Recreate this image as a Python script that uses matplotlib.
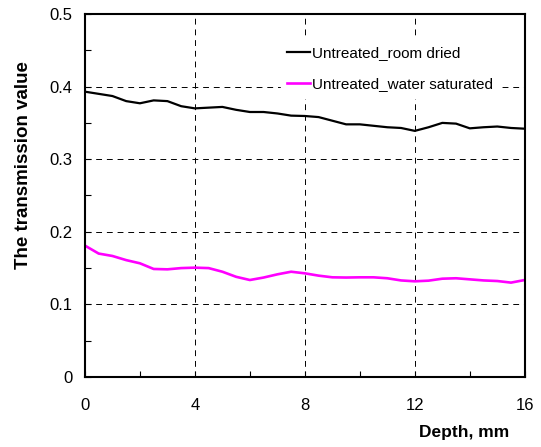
import numpy as np
import matplotlib
matplotlib.use("Agg")
import matplotlib.pyplot as plt
from matplotlib.ticker import MultipleLocator

# 深度 (mm)
depth = [0, 0.5, 1, 1.5, 2, 2.5, 3, 3.5, 4, 4.5, 5, 5.5, 6, 6.5, 7, 7.5, 8,
         8.5, 9, 9.5, 10, 10.5, 11, 11.5, 12, 12.5, 13, 13.5, 14, 14.5, 15, 15.5, 16]

# 室内干燥
room_dried = [0.393, 0.390, 0.387, 0.380, 0.377, 0.381, 0.380, 0.373, 0.370, 0.371,
              0.372, 0.368, 0.365, 0.365, 0.363, 0.360, 0.3595, 0.358, 0.353, 0.348,
              0.348, 0.346, 0.344, 0.343, 0.339, 0.344, 0.350, 0.349, 0.3425, 0.344,
              0.345, 0.343, 0.342]

# 饱水
water_saturated = [0.181, 0.170, 0.1667, 0.161, 0.1566, 0.1488, 0.1483, 0.150, 0.1506,
                   0.150, 0.145, 0.138, 0.1336, 0.137, 0.1414, 0.145, 0.1428, 0.1396,
                   0.1373, 0.137, 0.1373, 0.1373, 0.136, 0.133, 0.1318, 0.1327, 0.1354,
                   0.136, 0.1345, 0.133, 0.1322, 0.130, 0.1336]

labels = ["Untreated_room dried", "Untreated_water saturated"]

plt.rcParams["font.family"] = ["Liberation Sans", "DejaVu Sans"]

fig = plt.figure(figsize=(5.41, 4.47), dpi=100)
ax = fig.add_axes([0.157, 0.1566, 0.813, 0.8121])

ax.plot(depth, room_dried, color="black", lw=1.6, label=labels[0])
ax.plot(depth, water_saturated, color="#FF00FF", lw=1.9, label=labels[1])

ax.set_xlim(0, 16)
ax.set_ylim(0, 0.5)
ax.xaxis.set_major_locator(MultipleLocator(4))
ax.xaxis.set_minor_locator(MultipleLocator(2))
ax.yaxis.set_minor_locator(MultipleLocator(0.05))
ax.set_yticks([0, 0.1, 0.2, 0.3, 0.4, 0.5])
ax.set_yticklabels(["0", "0.1", "0.2", "0.3", "0.4", "0.5"])
ax.tick_params(which="both", direction="in", length=4, width=0.8, labelsize=12)
ax.tick_params(axis="x", pad=15)
ax.tick_params(axis="y", pad=9)

ax.grid(True, which="major", color="black", ls=(0, (6, 5)), lw=0.7)
for s in ax.spines.values():
    s.set_linewidth(1.5)

ax.set_xlabel("Depth, mm", fontweight="bold", fontsize=12.5)
ax.xaxis.set_label_coords(0.862, -0.133)
ax.set_ylabel("The transmission value", fontweight="bold", fontsize=13.5)
ax.yaxis.set_label_coords(-0.12, 0.585)

leg = ax.legend(loc="upper right", bbox_to_anchor=(0.96, 0.95), fontsize=11,
                frameon=True, fancybox=False, edgecolor="white", framealpha=1,
                handlelength=1.5, handletextpad=0.15, labelspacing=1.15,
                borderpad=0.4)

fig.savefig("out.png", dpi=100)
